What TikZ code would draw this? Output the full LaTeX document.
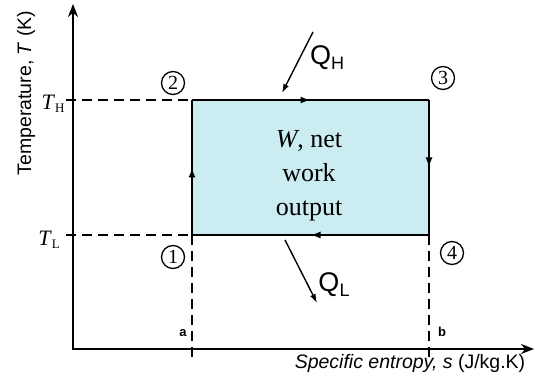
\documentclass[tikz,border=0pt]{standalone}
\usepackage{fontspec}
\setmainfont{Liberation Serif}
\setsansfont{Liberation Sans}
\usetikzlibrary{arrows.meta,decorations.markings}

\definecolor{workfill}{RGB}{203,236,240}

\tikzset{
  axis/.style={line width=2.8pt, {Stealth[length=13pt,width=10pt]}-{Stealth[length=13pt,width=10pt]}},
  guide/.style={line width=1.6pt, dash pattern=on 10pt off 6pt},
  cycleline/.style={line width=1.8pt},
  midarrow/.style={postaction={decorate}, decoration={markings,
      mark=at position 0.5 with {\arrow{Latex[length=10pt,width=7pt]}}}},
  statept/.style={circle, draw, line width=1.3pt, inner sep=0pt, minimum size=23pt,
      font=\fontsize{20}{20}\selectfont},
  heat/.style={line width=1.4pt, -{Latex[length=9pt,width=6pt]}},
  heatlabel/.style={font=\sffamily\fontsize{27}{27}\selectfont},
  templabel/.style={font=\fontsize{22}{22}\selectfont},
  axislabel/.style={font=\sffamily\fontsize{19.5}{19.5}\selectfont},
  endlabel/.style={font=\sffamily\bfseries\fontsize{13}{13}\selectfont},
}

\begin{document}
\begin{tikzpicture}[x=1pt, y=1pt]
  \useasboundingbox (0,0) rectangle (535,387);

  % corners of the cycle
  \coordinate (c1) at (192,152);
  \coordinate (c2) at (192,287);
  \coordinate (c3) at (429,287);
  \coordinate (c4) at (429,152);

  \fill[workfill] (c1) rectangle (c3);

  % axes
  \coordinate (o) at (73,38);
  \coordinate (ytop) at (73,383);
  \coordinate (xend) at (534,38);
  \draw[axis] (ytop) -- (o) -- (xend);

  % temperature levels and entropy ends
  \coordinate (thtick) at (66,287);
  \coordinate (tltick) at (66,152);
  \coordinate (sa) at (192,30);
  \coordinate (sb) at (429,30);
  \draw[guide] (thtick) -- (c2);
  \draw[guide] (tltick) -- (c1);
  \draw[guide] (c1) -- (sa);
  \draw[guide] (c4) -- (sb);

  \node[templabel] (TH) at (53,283) {\textit{T}\raisebox{-0.3ex}{\fontsize{13}{13}\selectfont H}};
  \node[templabel] (TL) at (49,147) {\textit{T}\raisebox{-0.3ex}{\fontsize{13}{13}\selectfont L}};
  \node[endlabel] (a) at (183,54) {a};
  \node[endlabel] (b) at (442,55) {b};

  % the cycle
  \draw[cycleline, midarrow] (c1) -- (c2);
  \draw[cycleline, midarrow] (c2) -- (c3);
  \draw[cycleline, midarrow] (c3) -- (c4);
  \draw[cycleline, midarrow] (c4) -- (c1);

  \node[statept] (n1) at (173,130) {1};
  \node[statept] (n2) at (173,304) {2};
  \node[statept] (n3) at (443,309) {3};
  \node[statept] (n4) at (452,134) {4};

  \node[align=center, font=\fontsize{26}{34}\selectfont] (work) at (309,211)
    {\textit{W}, net\\work\\output};

  % heat in and out
  \coordinate (qhs) at (313,355);
  \coordinate (qhe) at (282,294);
  \draw[heat] (qhs) -- (qhe);
  \node[heatlabel] (QH) at (327,329) {Q\raisebox{-0.3ex}{\fontsize{18}{18}\selectfont H}};
  \coordinate (qls) at (285,147);
  \coordinate (qle) at (317,84);
  \draw[heat] (qls) -- (qle);
  \node[heatlabel] (QL) at (334,102) {Q\raisebox{-0.3ex}{\fontsize{18}{18}\selectfont L}};

  % axis titles
  \node[axislabel] (xlab) at (410,24) {\textit{Specific entropy, s} (J/kg.K)};
  \node[axislabel, rotate=90] (ylab) at (26,294) {Temperature, \textit{T} (K)};
\end{tikzpicture}
\end{document}
